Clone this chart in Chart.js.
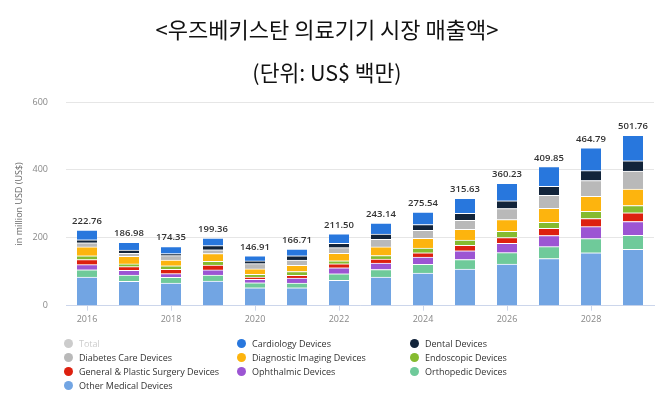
<!DOCTYPE html>
<html><head><meta charset="utf-8">
<script src="https://cdn.jsdelivr.net/npm/chart.js@4/dist/chart.umd.min.js"></script>
<style>
html,body{margin:0;padding:0;background:#fff;}
#wrap{position:relative;width:668px;height:414px;}
canvas{position:absolute;left:0;top:0;}
#legend{position:absolute;left:64px;top:336px;display:grid;grid-template-columns:173px 173px 200px;grid-auto-rows:14.2px;font:9px 'Open Sans',sans-serif;color:#333;}
.li{display:flex;align-items:center;white-space:nowrap;}
.dot{width:9px;height:9px;border-radius:50%;margin-right:6px;flex:none;}
</style></head><body>
<div id="wrap"><canvas id="c" width="668" height="414"></canvas><div id="legend"></div></div>
<script>
const years = ['2016','2017','2018','2019','2020','2021','2022','2023','2024','2025','2026','2027','2028','2029'];
const yTicks = [0, 200, 400, 600];
const totals = [222.76,186.98,174.35,199.36,146.91,166.71,211.50,243.14,275.54,315.63,360.23,409.85,464.79,501.76];
const cardiology  = [28.5,23.5,21,22.5,15,19.5,27.5,32.5,36.5,44,51,58,67,75];
const dental      = [9,9,6,12,8,13,13,15,17,21,23,27,29,30.5];
const diabetes    = [12,9,13,11,15.5,15.5,17,22.5,23.5,26,32.5,38,47,53];
const diagnostic  = [26.5,22.5,17,23.5,16,18,21.5,25.5,28.5,32,34.5,41,44,48];
const endoscopic  = [11,8,10,11,8,11,9,10,14,15.5,18.5,18,21,21.7];
const general     = [15,11,13,14,7,8,12,12,13,16,17,21,24,25.6];
const ophthalmic  = [15,14,11,15,10,15,17.5,19,21.5,25.5,27.5,33,35,40.4];
const orthopedic  = [21.5,18,17,18,14.5,14,19,22.5,25.5,28,33.5,35,42,41.4];
const other       = [84.26,71.98,66.35,72.36,52.91,52.71,75.0,84.14,96.04,108.13,122.73,138.85,155.79,166.16];

const series = [
  {label:'Other Medical Devices', data:other, color:'#72a5e3'},
  {label:'Orthopedic Devices', data:orthopedic, color:'#6fca9a'},
  {label:'Ophthalmic Devices', data:ophthalmic, color:'#9c55d3'},
  {label:'General & Plastic Surgery Devices', data:general, color:'#dd200f'},
  {label:'Endoscopic Devices', data:endoscopic, color:'#85bb2f'},
  {label:'Diagnostic Imaging Devices', data:diagnostic, color:'#fdb40e'},
  {label:'Diabetes Care Devices', data:diabetes, color:'#b9b9b9'},
  {label:'Dental Devices', data:dental, color:'#12243a'},
  {label:'Cardiology Devices', data:cardiology, color:'#2877dd'}
];
const legendOrder = [
  ['Total','#cccccc',true],
  ['Cardiology Devices','#2877dd'],
  ['Dental Devices','#12243a'],
  ['Diabetes Care Devices','#b9b9b9'],
  ['Diagnostic Imaging Devices','#fdb40e'],
  ['Endoscopic Devices','#85bb2f'],
  ['General & Plastic Surgery Devices','#dd200f'],
  ['Ophthalmic Devices','#9c55d3'],
  ['Orthopedic Devices','#6fca9a'],
  ['Other Medical Devices','#72a5e3']
];
const lg = document.getElementById('legend');
legendOrder.forEach(([name,col,faded])=>{
  const d=document.createElement('div');d.className='li';
  const s=document.createElement('span');s.className='dot';s.style.background=col;
  const t=document.createElement('span');t.textContent=name;if(faded)t.style.color='#cccccc';
  d.appendChild(s);d.appendChild(t);lg.appendChild(d);
});

const totalLabels = {
  id:'totalLabels',
  afterDatasetsDraw(chart){
    const {ctx} = chart; const xs = chart.scales.x, ys = chart.scales.y;
    ctx.save();
    ctx.font = '600 9.5px "Open Sans", sans-serif';
    ctx.fillStyle = '#333'; ctx.textAlign = 'center'; ctx.textBaseline = 'bottom';
    totals.forEach((t,i)=>ctx.fillText(t.toFixed(2), xs.getPixelForValue(i), ys.getPixelForValue(t) - 4));
    ctx.restore();
  }
};

new Chart(document.getElementById('c'), {
  type:'bar',
  data:{
    labels: years,
    datasets: series.map(s=>({
      label:s.label, data:s.data, backgroundColor:s.color,
      borderColor:'#ffffff', borderWidth:{top:1,left:0,right:0,bottom:0}, borderSkipped:false,
      barThickness:20
    }))
  },
  options:{
    responsive:false, devicePixelRatio:1, animation:false,
    layout:{padding:{left:0,right:14,top:0,bottom:86.5}},
    plugins:{
      legend:{display:false}, tooltip:{enabled:false},
      title:{display:true, text:'<우즈베키스탄 의료기기 시장 매출액>', color:'#111',
        font:{family:'"Noto Sans CJK KR"', size:22, weight:'normal'}, padding:{top:16.8,bottom:8}},
      subtitle:{display:true, text:'(단위: US$ 백만)', color:'#111',
        font:{family:'"Noto Sans CJK KR"', size:21.5, weight:'normal'}, padding:{top:9,bottom:16}}
    },
    scales:{
      x:{stacked:true,
        grid:{display:true, drawOnChartArea:false, offset:false, tickLength:5,
          color:(c)=> (c.index % 2 === 0 ? '#ccd6eb' : 'rgba(0,0,0,0)')},
        border:{display:true, color:'#ccd6eb'},
        ticks:{autoSkip:false, maxRotation:0, padding:3, color:'#888',
          font:{family:'"Open Sans", sans-serif', size:9},
          callback:(v,i)=> (i % 2 === 0 ? years[i] : '')}
      },
      y:{stacked:true, min:0, max:600,
        afterFit:(s)=>{s.width=66;},
        afterBuildTicks:(s)=>{s.ticks = yTicks.map(v=>({value:v}));},
        grid:{color:'#e6e6e6', drawTicks:false},
        border:{display:false},
        ticks:{padding:18, color:'#888', font:{family:'"Open Sans", sans-serif', size:9}},
        title:{display:true, text:'in million USD (US$)', color:'#666',
          font:{family:'"Open Sans", sans-serif', size:9}, padding:{top:14.5,bottom:0}}
      }
    }
  },
  plugins:[totalLabels]
});
</script>
</body></html>
